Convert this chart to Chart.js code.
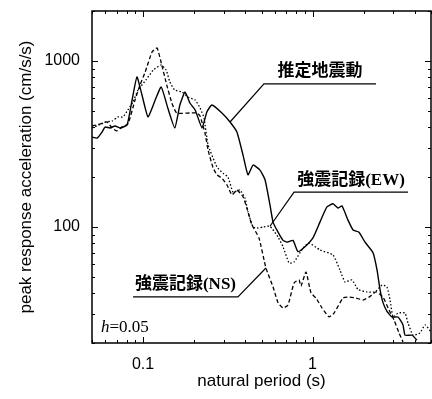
<!DOCTYPE html>
<html>
<head>
<meta charset="utf-8">
<script src="https://cdn.jsdelivr.net/npm/chart.js@4/dist/chart.umd.min.js"></script>
<style>
html, body { margin: 0; padding: 0; background: #fff; }
canvas { display: block; }
</style>
</head>
<body>
<canvas id="spectra" width="432" height="399"></canvas>
<script>
// 推定地震動 (estimated ground motion), solid
const estPeriod = [0.050, 0.0535, 0.0573, 0.0597, 0.0639, 0.0684, 0.0732, 0.0805, 0.0862, 0.0921,
    0.0986, 0.107, 0.118, 0.128, 0.140, 0.154, 0.165, 0.177, 0.189, 0.203,
    0.223, 0.238, 0.255, 0.292, 0.326, 0.358, 0.389, 0.416, 0.446, 0.490,
    0.525, 0.561, 0.585, 0.626, 0.670, 0.707, 0.767, 0.821, 0.902, 1.006,
    1.106, 1.216, 1.321, 1.413, 1.492, 1.619, 1.733, 1.880, 2.040, 2.275,
    2.403, 2.502, 2.606, 2.750, 2.943, 3.193, 3.418, 3.513, 3.866, 4.133];
const estAccel = [348, 343, 373, 400, 395, 406, 395, 412, 582, 801,
    624, 460, 582, 697, 521, 395, 543, 650, 558, 507,
    395, 493, 543, 486, 429, 373, 271, 206, 236, 220,
    192, 136, 107, 93, 83, 81, 83, 71, 76, 86,
    107, 132, 138, 130, 134, 110, 96, 93, 81, 70,
    55, 42, 35, 31, 28.7, 28.7, 25.7, 22.3, 22.3, 20.8];

// 強震記録(EW), dotted
const ewPeriod = [0.050, 0.0550, 0.0605, 0.0657, 0.0711, 0.0761, 0.0815, 0.0872, 0.0934, 0.104,
    0.115, 0.128, 0.137, 0.144, 0.154, 0.170, 0.184, 0.203, 0.217, 0.229,
    0.242, 0.273, 0.296, 0.317, 0.340, 0.373, 0.400, 0.416, 0.446, 0.477,
    0.510, 0.561, 0.626, 0.670, 0.727, 0.778, 0.879, 0.953, 1.106, 1.321,
    1.452, 1.555, 1.710, 1.855, 2.096, 2.337, 2.571, 2.750, 2.866, 2.985,
    3.193, 3.513, 3.657, 3.918, 4.306, 4.612, 5.0];
const ewAccel = [395, 412, 429, 435, 460, 460, 507, 566, 668, 768,
    882, 946, 882, 747, 668, 650, 607, 582, 521, 453,
    312, 230, 211, 200, 162, 167, 149, 123, 100, 98.6,
    100, 101, 87, 76, 60.7, 61.5, 74.7, 80, 72.7, 67.8,
    55, 46.6, 48, 42, 40.6, 40.6, 44.7, 43.5, 36.3, 28.7,
    30.3, 30.3, 26.4, 22.3, 23.0, 25.7, 23.3];

// 強震記録(NS), dashed
const nsPeriod = [0.050, 0.0557, 0.0613, 0.0657, 0.0701, 0.0751, 0.0815, 0.0897, 0.0960, 0.103,
    0.113, 0.121, 0.129, 0.138, 0.148, 0.158, 0.189, 0.208, 0.217, 0.232,
    0.242, 0.259, 0.273, 0.292, 0.313, 0.335, 0.358, 0.389, 0.410, 0.439,
    0.483, 0.531, 0.585, 0.626, 0.670, 0.717, 0.778, 0.832, 0.855, 0.915,
    0.980, 1.049, 1.138, 1.251, 1.339, 1.513, 1.641, 1.806, 1.985, 2.154,
    2.370, 2.606, 2.827, 3.027, 3.238, 3.418];
const nsAccel = [406, 417, 429, 395, 379, 400, 417, 582, 717, 858,
    1132, 1197, 946, 717, 558, 486, 486, 486, 466, 368,
    291, 227, 206, 197, 179, 156, 167, 152, 130, 103,
    86, 56.6, 43.5, 35, 32.5, 33.9, 46, 48, 44.1, 53.5,
    40, 37.3, 32.5, 28.7, 30.3, 37.3, 37.8, 37.3, 36.3, 37.8,
    40.6, 37.8, 31.6, 27.5, 23, 20.3];

// axis ranges and tick positions
const xRange = [0.05, 5];
const yRange = [20, 2000];
const xTickVals = [0.05, 0.06, 0.07, 0.08, 0.09, 0.1, 0.2, 0.3, 0.4, 0.5, 0.6, 0.7, 0.8, 0.9, 1, 2, 3, 4, 5];
const yTickVals = [20, 30, 40, 50, 60, 70, 80, 90, 100, 200, 300, 400, 500, 600, 700, 800, 900, 1000, 2000];
const xLabelled = [0.1, 1];
const yLabelled = [100, 1000];

const pairs = (xs, ys) => xs.map((x, i) => ({ x, y: ys[i] }));

// call-out labels: leader from a point on the curve, then an underline under the text
const callouts = [
    { text: '推定地震動', at: [estPeriod[24], estAccel[24]], from: [0.517, 727], to: [2.37, 727] },
    { text: '強震記録(EW)', at: [ewPeriod[31], ewAccel[31]], from: [0.778, 162], to: [3.66, 162] },
    { text: '強震記録(NS)', at: [nsPeriod[31], nsAccel[31]], from: [0.363, 37.9], to: [0.0873, 37.9] }
];

const frameAndNotes = {
    id: 'frameAndNotes',
    afterDraw(chart) {
        const { ctx, chartArea: a, scales: { x, y } } = chart;
        ctx.save();
        ctx.strokeStyle = '#000';

        // inward ticks on all four sides
        ctx.lineWidth = 1;
        x.ticks.forEach(t => {
            const px = Math.round(x.getPixelForValue(t.value)) + 0.5;
            const len = xLabelled.includes(t.value) ? 6 : 3;
            ctx.beginPath();
            ctx.moveTo(px, a.bottom); ctx.lineTo(px, a.bottom - len);
            ctx.moveTo(px, a.top); ctx.lineTo(px, a.top + len);
            ctx.stroke();
        });
        y.ticks.forEach(t => {
            const py = Math.round(y.getPixelForValue(t.value)) + 0.5;
            const len = yLabelled.includes(t.value) ? 6 : 3;
            ctx.beginPath();
            ctx.moveTo(a.left, py); ctx.lineTo(a.left + len, py);
            ctx.moveTo(a.right, py); ctx.lineTo(a.right - len, py);
            ctx.stroke();
        });

        ctx.lineWidth = 1.5;
        ctx.strokeRect(a.left, a.top, a.right - a.left, a.bottom - a.top);

        // call-outs
        ctx.lineWidth = 1.2;
        ctx.fillStyle = '#000';
        ctx.font = 'bold 17px "Liberation Serif", "Noto Sans CJK JP"';
        ctx.textAlign = 'center';
        ctx.textBaseline = 'middle';
        callouts.forEach(c => {
            const p0 = [x.getPixelForValue(c.at[0]), y.getPixelForValue(c.at[1])];
            const p1 = [x.getPixelForValue(c.from[0]), y.getPixelForValue(c.from[1])];
            const p2 = [x.getPixelForValue(c.to[0]), y.getPixelForValue(c.to[1])];
            ctx.beginPath();
            ctx.moveTo(p0[0], p0[1]);
            ctx.lineTo(p1[0], p1[1]);
            ctx.lineTo(p2[0], p2[1]);
            ctx.stroke();
            ctx.fillText(c.text, (p1[0] + p2[0]) / 2, p1[1] - 12);
        });

        // damping note
        ctx.textAlign = 'left';
        ctx.textBaseline = 'alphabetic';
        ctx.font = 'italic 17px "Liberation Serif"';
        const nx = a.left + 9, ny = a.bottom - 11;
        ctx.fillText('h', nx, ny);
        const hw = ctx.measureText('h').width;
        ctx.font = '17px "Liberation Serif"';
        ctx.fillText('=0.05', nx + hw, ny);
        ctx.restore();
    }
};

const lineStyle = { borderColor: '#000', pointRadius: 0, tension: 0.15, fill: false };

new Chart(document.getElementById('spectra'), {
    type: 'line',
    data: {
        datasets: [
            { ...lineStyle, label: '推定地震動', data: pairs(estPeriod, estAccel), borderWidth: 1.4 },
            { ...lineStyle, label: '強震記録(EW)', data: pairs(ewPeriod, ewAccel), borderWidth: 1.3, borderDash: [1.5, 2] },
            { ...lineStyle, label: '強震記録(NS)', data: pairs(nsPeriod, nsAccel), borderWidth: 1.3, borderDash: [4, 2.5] }
        ]
    },
    options: {
        responsive: false,
        animation: false,
        layout: { padding: { top: 11, right: 1, left: 0, bottom: 0 } },
        plugins: { legend: { display: false }, tooltip: { enabled: false } },
        scales: {
            x: {
                type: 'logarithmic',
                min: xRange[0], max: xRange[1],
                afterBuildTicks: s => { s.ticks = xTickVals.map(v => ({ value: v })); },
                afterFit: s => { s.height = 56; s.paddingLeft = 0; s.paddingRight = 0; },
                grid: { display: false, drawTicks: false },
                border: { display: false },
                ticks: {
                    autoSkip: false, maxRotation: 0, padding: 12, color: '#000',
                    font: { family: '"Liberation Sans"', size: 16 },
                    callback: v => xLabelled.includes(v) ? String(v) : ''
                },
                title: {
                    display: true, text: 'natural period (s)', color: '#000',
                    font: { family: '"Liberation Sans"', size: 17 },
                    padding: { top: 0, bottom: 7 }
                }
            },
            y: {
                type: 'logarithmic',
                min: yRange[0], max: yRange[1],
                afterBuildTicks: s => { s.ticks = yTickVals.map(v => ({ value: v })); },
                afterFit: s => { s.width = 92; s.paddingTop = 0; s.paddingBottom = 0; },
                grid: { display: false, drawTicks: false },
                border: { display: false },
                ticks: {
                    autoSkip: false, padding: 12, color: '#000',
                    font: { family: '"Liberation Sans"', size: 16 },
                    callback: v => yLabelled.includes(v) ? String(v) : ''
                },
                title: {
                    display: true, text: 'peak response acceleration (cm/s/s)', color: '#000',
                    font: { family: '"Liberation Sans"', size: 17 },
                    padding: { top: 16, bottom: 0 }
                }
            }
        }
    },
    plugins: [frameAndNotes]
});
</script>
</body>
</html>
